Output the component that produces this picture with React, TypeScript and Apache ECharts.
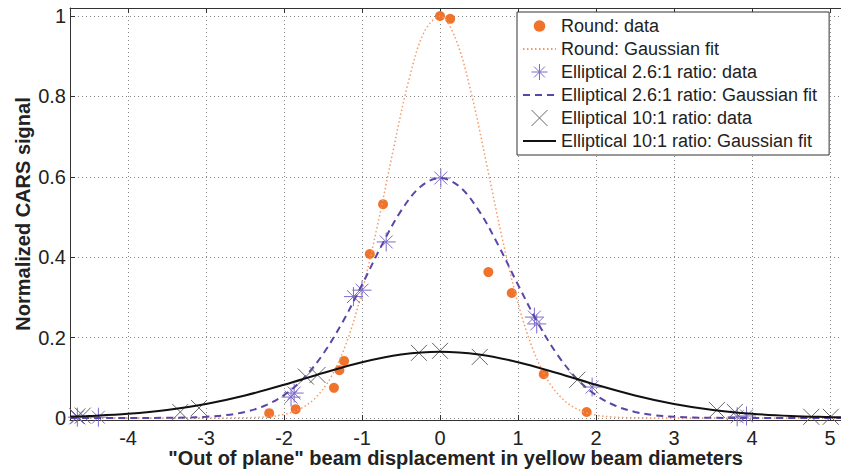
import React, { useEffect, useRef } from 'react';
import * as echarts from 'echarts';

// ---- Data ----
const roundX = [-2.19, -1.85, -1.36, -1.29, -1.23, -0.9, -0.73, 0.0, 0.13, 0.62, 0.92, 1.33, 1.88];
const roundY = [0.012, 0.022, 0.075, 0.119, 0.142, 0.408, 0.532, 1.0, 0.993, 0.363, 0.311, 0.109, 0.015];

const roundFitX = [-4.74, -2.6, -2.4, -2.2, -2.0, -1.8, -1.6, -1.4, -1.2, -1.0, -0.8, -0.6, -0.4, -0.2, 0.0, 0.2, 0.4, 0.6, 0.8, 1.0, 1.2, 1.4, 1.6, 1.8, 2.0, 2.2, 2.4, 2.6, 5.14];
const roundFitY = [0.0, 0.0003, 0.0011, 0.0033, 0.0089, 0.022, 0.0494, 0.1008, 0.1868, 0.3144, 0.4805, 0.6668, 0.8403, 0.9617, 0.9995, 0.9434, 0.8085, 0.6293, 0.4448, 0.2855, 0.1664, 0.0881, 0.0423, 0.0185, 0.0073, 0.0026, 0.0009, 0.0003, 0.0];

const ell26X = [-4.65, -4.38, -1.91, -1.87, -1.11, -1.0, -0.69, 0.01, 1.21, 1.24, 1.95, 3.81, 3.93];
const ell26Y = [0.002, 0.002, 0.052, 0.062, 0.302, 0.318, 0.438, 0.597, 0.251, 0.234, 0.077, 0.003, 0.005];

const ell26FitX = [-4.74, -4.0, -3.5, -3.25, -3.0, -2.75, -2.5, -2.25, -2.0, -1.75, -1.5, -1.25, -1.0, -0.75, -0.5, -0.25, 0.0, 0.25, 0.5, 0.75, 1.0, 1.25, 1.5, 1.75, 2.0, 2.25, 2.5, 2.75, 3.0, 3.25, 3.5, 4.0, 5.14];
const ell26FitY = [0.0, 0.0, 0.0004, 0.0012, 0.003, 0.007, 0.0151, 0.0304, 0.0568, 0.0986, 0.1589, 0.2382, 0.3315, 0.4288, 0.5153, 0.5755, 0.597, 0.5755, 0.5153, 0.4288, 0.3315, 0.2382, 0.1589, 0.0986, 0.0568, 0.0304, 0.0151, 0.007, 0.003, 0.0012, 0.0004, 0.0, 0.0];

const ell10X = [-4.65, -4.58, -3.33, -3.09, -1.72, -1.57, -0.27, 0.0, 0.51, 1.76, 3.55, 3.78, 4.76, 5.01];
const ell10Y = [0.004, 0.006, 0.015, 0.025, 0.103, 0.107, 0.162, 0.167, 0.152, 0.095, 0.02, 0.015, 0.003, 0.003];

const ell10FitX = [-4.74, -4.5, -4.0, -3.5, -3.0, -2.5, -2.0, -1.5, -1.0, -0.5, 0.0, 0.5, 1.0, 1.5, 2.0, 2.5, 3.0, 3.5, 4.0, 4.5, 5.0, 5.14];
const ell10FitY = [0.0034, 0.005, 0.0104, 0.0198, 0.0348, 0.056, 0.0826, 0.1118, 0.1388, 0.158, 0.165, 0.158, 0.1388, 0.1118, 0.0826, 0.056, 0.0348, 0.0198, 0.0104, 0.005, 0.0022, 0.0017];

const seriesNames = [
  'Round: data',
  'Round: Gaussian fit',
  'Elliptical 2.6:1 ratio: data',
  'Elliptical 2.6:1 ratio: Gaussian fit',
  'Elliptical 10:1 ratio: data',
  'Elliptical 10:1 ratio: Gaussian fit',
];

const xTitle = '"Out of plane" beam displacement in yellow beam diameters';
const yTitle = 'Normalized CARS signal';

const X_MIN = -4.744;
const X_MAX = 5.141;
const Y_MIN = -0.005;
const Y_MAX = 1.02;

const FONT = '"Liberation Sans", Arial, Helvetica, sans-serif';
const ASTERISK = 'path://M50,0 L50,100 M0,50 L100,50 M16,16 L84,84 M84,16 L16,84';
const XMARK = 'path://M0,0 L100,100 M100,0 L0,100';
// circle with empty corner points so the legend draws it smaller than the box
const SMALL_DOT = 'path://M0,0 L0,0 Z M100,100 L100,100 Z M50,14 A36,36 0 1,1 49.99,14 Z';

const pairs = (xs: number[], ys: number[]) => xs.map((x, i) => [x, ys[i]]);

export default function App() {
  const ref = useRef<HTMLDivElement>(null);

  useEffect(() => {
    if (!ref.current) return;
    const chart = echarts.init(ref.current, undefined, { renderer: 'svg' });

    const axisText = { fontFamily: FONT, fontSize: 20, color: '#222' };
    const hiddenSymbol = { color: 'rgba(0,0,0,0)', borderWidth: 0, opacity: 0 };

    chart.setOption({
      animation: false,
      backgroundColor: '#fff',
      grid: { left: 70, right: 0, top: 8, bottom: 49, containLabel: false, outerBoundsMode: 'none' },
      legend: {
        orient: 'vertical',
        left: 517,
        top: 12,
        backgroundColor: '#fff',
        borderColor: '#333',
        borderWidth: 1,
        borderRadius: 0,
        padding: [5, 12, 5, 5],
        itemWidth: 33,
        itemHeight: 16,
        itemGap: 5,
        textStyle: { fontFamily: FONT, fontSize: 18, color: '#222' },
        data: [
          { name: seriesNames[0], icon: SMALL_DOT },
          { name: seriesNames[1], itemStyle: hiddenSymbol },
          { name: seriesNames[2], itemStyle: { borderWidth: 1 } },
          { name: seriesNames[3], itemStyle: hiddenSymbol },
          { name: seriesNames[4], itemStyle: { borderWidth: 1 } },
          { name: seriesNames[5], itemStyle: hiddenSymbol },
        ],
      },
      xAxis: [
        {
          type: 'value',
          min: X_MIN,
          max: X_MAX,
          splitNumber: 10,
          minInterval: 1,
          maxInterval: 1,
          axisLine: { show: true, onZero: false, lineStyle: { color: '#333', width: 1 } },
          axisTick: { show: true, inside: true, length: 5, lineStyle: { color: '#333' } },
          axisLabel: { ...axisText, margin: 8, showMinLabel: false, showMaxLabel: false },
          splitLine: { show: true, lineStyle: { color: '#888', type: [1, 3], width: 1 } },
          name: xTitle,
          nameLocation: 'middle',
          nameGap: 28,
          nameMoveOverlap: false,
          nameTextStyle: { fontFamily: FONT, fontSize: 20, fontWeight: 'bold', color: '#222' },
        },
        {
          type: 'value',
          position: 'top',
          min: X_MIN,
          max: X_MAX,
          splitNumber: 10,
          minInterval: 1,
          maxInterval: 1,
          axisLine: { show: true, onZero: false, lineStyle: { color: '#333', width: 1 } },
          axisTick: { show: true, inside: true, length: 5, lineStyle: { color: '#333' } },
          axisLabel: { show: false },
          splitLine: { show: false },
        },
      ],
      yAxis: {
        type: 'value',
        min: Y_MIN,
        max: Y_MAX,
        splitNumber: 5,
        minInterval: 0.2,
        maxInterval: 0.2,
        axisLine: { show: true, onZero: false, lineStyle: { color: '#333', width: 1 } },
        axisTick: { show: true, inside: true, length: 5, lineStyle: { color: '#333' } },
        axisLabel: { ...axisText, margin: 4, showMinLabel: false, showMaxLabel: false },
        splitLine: { show: true, lineStyle: { color: '#888', type: [1, 3], width: 1 } },
        name: yTitle,
        nameLocation: 'middle',
        nameGap: 37,
        nameMoveOverlap: false,
        nameTextStyle: { fontFamily: FONT, fontSize: 20, fontWeight: 'bold', color: '#222' },
      },
      series: [
        {
          name: seriesNames[0],
          type: 'scatter',
          data: pairs(roundX, roundY),
          symbol: 'circle',
          symbolSize: 10,
          itemStyle: { color: '#F0732C', opacity: 1 },
          z: 2,
        },
        {
          name: seriesNames[1],
          type: 'line',
          data: pairs(roundFitX, roundFitY),
          symbol: 'none',
          smooth: 0.35,
          lineStyle: { color: '#F59A66', width: 1.5, type: [1.5, 2.5] },
          itemStyle: { color: '#F59A66' },
          z: 3,
        },
        {
          name: seriesNames[2],
          type: 'scatter',
          data: pairs(ell26X, ell26Y),
          symbol: ASTERISK,
          symbolSize: 19,
          itemStyle: { color: 'rgba(0,0,0,0)', borderColor: '#7C6ACB', borderWidth: 1, opacity: 1 },
          z: 4,
        },
        {
          name: seriesNames[3],
          type: 'line',
          data: pairs(ell26FitX, ell26FitY),
          symbol: 'none',
          smooth: 0.35,
          lineStyle: { color: '#5B45A8', width: 2, type: [7, 5] },
          itemStyle: { color: '#5B45A8' },
          z: 5,
        },
        {
          name: seriesNames[4],
          type: 'scatter',
          data: pairs(ell10X, ell10Y),
          symbol: XMARK,
          symbolSize: 16,
          itemStyle: { color: 'rgba(0,0,0,0)', borderColor: '#666', borderWidth: 1, opacity: 1 },
          z: 6,
        },
        {
          name: seriesNames[5],
          type: 'line',
          data: pairs(ell10FitX, ell10FitY),
          symbol: 'none',
          smooth: 0.35,
          lineStyle: { color: '#111', width: 2 },
          itemStyle: { color: '#111' },
          z: 7,
        },
      ],
    });

    return () => chart.dispose();
  }, []);

  return (
    <div
      ref={ref}
      style={{ position: 'absolute', left: 0, top: 0, width: 841, height: 469 }}
    />
  );
}
